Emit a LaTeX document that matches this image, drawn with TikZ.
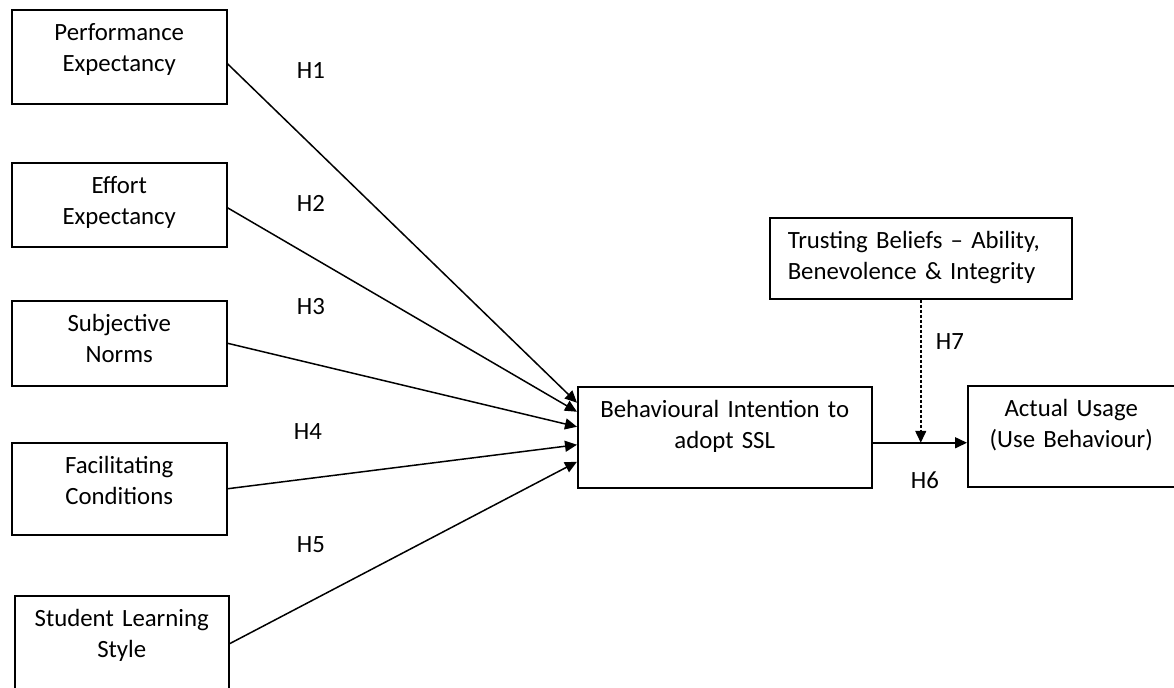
\documentclass[tikz,border=0pt]{standalone}
\usepackage{fontspec}
\setmainfont{Carlito}
\usetikzlibrary{arrows.meta}

\tikzset{
  concept/.style={draw, line width=0.75pt, align=center, inner sep=0pt,
    anchor=north west, text height=15.5pt,
    font=\fontsize{12.4}{15.3}\selectfont},
  hlabel/.style={font=\fontsize{12.4}{15.3}\selectfont},
  path/.style={line width=0.75pt, -{Triangle[length=6pt,width=5.5pt]}},
  moderation/.style={path, dash pattern=on 1.5pt off 1pt},
}

\begin{document}
\begin{tikzpicture}[x=0.5pt, y=-0.5pt]
  \clip (0,0) rectangle (1174,687);

  % Constructs on the left
  \node[concept, text width=107.5pt, text depth=31.5pt] (pe) at (11,9) {Performance\\Expectancy};
  \node[concept, text width=107.5pt, text depth=26.5pt] (ee) at (11,162) {Effort\\Expectancy};
  \node[concept, text width=107.5pt, text depth=27pt] (sn) at (11,300) {Subjective\\Norms};
  \node[concept, text width=107.5pt, text depth=30.5pt] (fc) at (11,442) {Facilitating\\Conditions};
  \node[concept, text width=107pt, text depth=37pt] (sls) at (14,595) {Student Learning\\Style};

  % Intention, moderator and usage
  \node[concept, text width=147pt, text depth=35pt] (bi) at (577,386) {Behavioural Intention to\\adopt SSL};
  \node[concept, align=left, inner xsep=9pt, text width=133pt, text depth=25pt] (tb) at (769,217) {Trusting Beliefs -- Ability,\\Benevolence \& Integrity};
  \node[concept, text width=103.5pt, text depth=35pt] (au) at (967,385) {Actual Usage\\(Use Behaviour)};

  % Hypothesis labels
  \node[hlabel] (h1) at (311,71) {H1};
  \node[hlabel] (h2) at (311,203) {H2};
  \node[hlabel] (h3) at (311,307) {H3};
  \node[hlabel] (h4) at (308,432) {H4};
  \node[hlabel] (h5) at (311,545) {H5};
  \node[hlabel] (h7) at (950,342) {H7};
  \node[hlabel] (h6) at (925,480) {H6};

  % Paths H1 - H5
  \draw[path] ([yshift=-3.5pt]pe.east) -- ([yshift=17.25pt]bi.west);
  \draw[path] ([yshift=-1.5pt]ee.east) -- ([yshift=12.75pt]bi.west);
  \draw[path] (sn.east) -- ([yshift=5.25pt]bi.west);
  \draw[path] (fc.east) -- ([yshift=-3.75pt]bi.west);
  \draw[path] ([yshift=2.25pt]sls.east) -- ([yshift=-12.25pt]bi.west);

  % Path H6 and moderation H7
  \coordinate (biout) at ([yshift=-2.75pt]bi.east);
  \draw[path] (biout) -- (biout -| au.west);
  \draw[moderation] (tb.south) -- (tb.south |- biout);
\end{tikzpicture}
\end{document}
